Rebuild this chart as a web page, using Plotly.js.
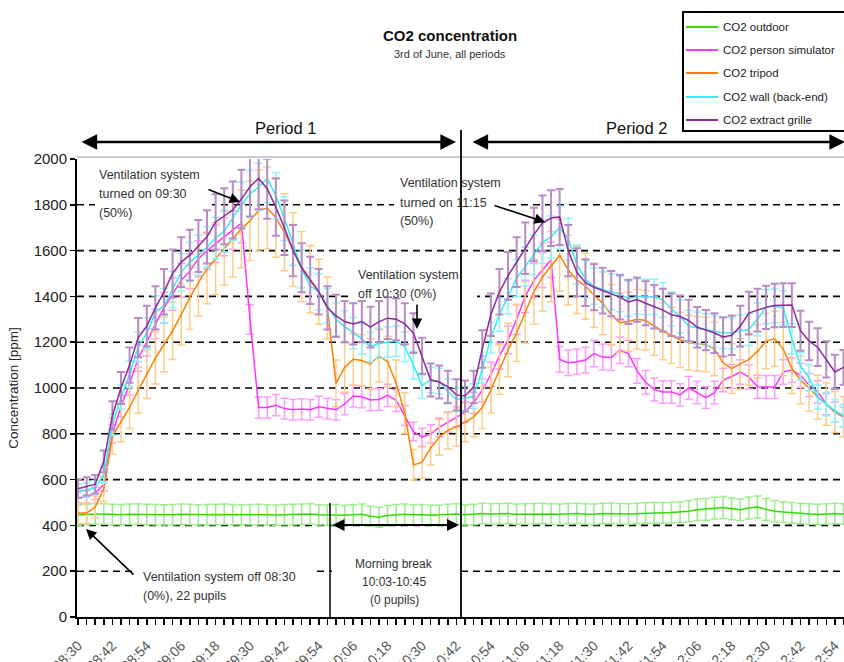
<!DOCTYPE html>
<html><head><meta charset="utf-8">
<script src="https://cdn.plot.ly/plotly-3.0.1.min.js"></script>
<style>html,body{margin:0;padding:0;overflow:hidden;background:#fff;} #chart{width:900px;height:700px;}</style>
</head><body><div id="chart"></div>
<script>
// ---- data ----
const day = "2024-06-03";
const startTime = "08:30";
const stepMinutes = 3;
const seriesNames = ["CO2 outdoor","CO2 person simulator","CO2 tripod","CO2 wall (back-end)","CO2 extract grille"];
const outdoor = [445,448,450,450,448,447,449,450,448,447,
  446,447,449,448,446,447,448,449,447,446,
  447,448,446,445,447,448,449,450,446,445,
  447,444,446,449,440,436,443,447,449,446,
  447,444,445,448,450,446,448,452,450,451,
  452,449,450,451,452,450,449,451,452,450,
  449,452,453,451,450,452,454,455,455,456,
  458,462,468,470,475,478,472,468,476,480,
  470,462,458,455,452,450,448,450,452,450];
const personSimulator = [520,525,540,580,800,920,1020,1130,1200,1280,
  1350,1410,1470,1510,1565,1600,1630,1660,1690,1720,
  1300,915,915,925,910,905,908,905,918,910,
  905,930,965,962,948,950,968,945,880,810,
  785,800,828,850,875,895,935,990,1060,1140,
  1210,1300,1400,1470,1515,1560,1125,1110,1115,1122,
  1150,1135,1133,1165,1150,1075,1025,993,983,983,
  970,1000,980,958,980,1035,1050,1070,1048,1005,
  1004,1004,1070,1078,1055,1013,983,930,895,873];
const tripod = [454,454,480,560,790,850,915,990,1060,1130,
  1190,1250,1320,1395,1460,1520,1565,1610,1650,1695,
  1730,1775,1786,1745,1680,1605,1530,1475,1420,1350,
  1020,1090,1125,1120,1105,1140,1115,1020,890,665,
  675,738,785,815,830,850,874,915,990,1080,
  1166,1240,1330,1420,1485,1530,1580,1515,1472,1445,
  1405,1370,1320,1285,1290,1300,1295,1270,1248,1230,
  1210,1198,1193,1190,1170,1110,1085,1105,1125,1160,
  1205,1215,1170,1085,1035,1000,960,930,895,875];
const wall = [550,555,565,620,840,960,1060,1180,1240,1330,
  1360,1430,1505,1550,1580,1615,1655,1685,1740,1800,
  1848,1878,1915,1840,1740,1625,1520,1445,1420,1360,
  1300,1268,1240,1215,1180,1195,1200,1205,1180,1100,
  1010,1035,1030,985,950,955,965,1080,1220,1320,
  1400,1480,1530,1580,1635,1660,1700,1650,1540,1475,
  1445,1430,1420,1410,1390,1400,1398,1398,1385,1345,
  1312,1270,1262,1255,1248,1240,1240,1250,1255,1300,
  1355,1358,1350,1215,1095,1045,960,930,900,880];
const extractGrille = [560,570,580,680,880,1000,1100,1220,1270,1350,
  1420,1500,1550,1580,1620,1660,1725,1750,1777,1825,
  1880,1915,1870,1790,1700,1600,1525,1470,1420,1350,
  1315,1290,1280,1290,1266,1290,1305,1300,1280,1240,
  1140,1035,1026,1005,970,965,1005,1170,1320,1420,
  1490,1550,1610,1670,1720,1742,1747,1600,1505,1460,
  1440,1425,1412,1397,1376,1386,1370,1355,1340,1320,
  1312,1295,1265,1253,1240,1223,1230,1270,1327,1340,
  1352,1360,1362,1362,1250,1205,1178,1125,1070,1090];
const errorPercent = [10, 5, 10, 5.5, 7];
const yTickValues = [0,200,400,600,800,1000,1200,1400,1600,1800,2000];

// ---- time axis ----
function toDate(hhmm, addMin){
  const [h,m] = hhmm.split(":").map(Number);
  const t = h*60+m+(addMin||0);
  const hh = Math.floor(t/60), mm = Math.floor(t%60), ss = Math.round((t*60)%60);
  const p = n => String(n).padStart(2,"0");
  return `${day} ${p(hh)}:${p(mm)}:${p(ss)}`;
}
const times = outdoor.map((_, i) => toDate(startTime, i*stepMinutes));

// ---- geometry helpers (pixel -> paper) ----
const W = 900, H = 700, L = 77, T = 159, B = 83, R = 0;
const PW = W - L - R, PH = H - T - B;
const pxPerMin = 2.867;
const px2x = px => (px - L) / PW;
const py2y = py => (T + PH - py) / PH;
const xStart = toDate(startTime, -(78 - L) / pxPerMin);
const xEnd = toDate(startTime, (L + PW - 78) / pxPerMin);

const lineColors = ["#33dd00","#ff33ff","#ff8000","#30eef5","#8b2b9b"];
const barColors  = ["#99ee88","#ff99ff","#ffcc88","#88f6ff","#b98cc8"];
const seriesData = [outdoor, personSimulator, tripod, wall, extractGrille];

const traces = seriesData.map((ys, k) => ({
  type: "scatter", mode: "lines", x: times, y: ys, name: seriesNames[k],
  line: {color: lineColors[k], width: 1.5},
  error_y: {type: "percent", value: errorPercent[k], color: barColors[k],
            thickness: k === 4 ? 2 : 1.5, width: 4},
  showlegend: false, cliponaxis: true
}));

const shapes = [];
// dashed grid lines
yTickValues.filter(v => v > 0 && v < 2000).forEach(v => shapes.push({
  type: "line", xref: "paper", yref: "y", x0: 0, x1: 1, y0: v, y1: v,
  line: {color: "#000", width: 1.6, dash: "7px,5px"}, layer: "below"}));
// top border
shapes.push({type:"line", xref:"paper", yref:"paper", x0:0, x1:1, y0:py2y(157), y1:py2y(157),
  line:{color:"#cccccc", width:2}, layer:"below"});
// white text boxes
const boxes = [[95,165,212,224],[394,172,508,232],[352,265,477,304],[133,566,312,606],[332,553,458,610]];
boxes.forEach(b => shapes.push({type:"rect", xref:"paper", yref:"paper",
  x0:px2x(b[0]), x1:px2x(b[2]), y0:py2y(b[3]), y1:py2y(b[1]),
  fillcolor:"#fff", line:{width:0}, layer:"below"}));
// period divider and morning break line
shapes.push({type:"line", xref:"paper", yref:"paper", x0:px2x(461), x1:px2x(461), y0:0, y1:py2y(130),
  line:{color:"#000", width:1.8}, layer:"above"});
shapes.push({type:"line", xref:"paper", yref:"paper", x0:px2x(330), x1:px2x(330), y0:0, y1:py2y(503),
  line:{color:"#000", width:1.5}, layer:"above"});
// legend box
shapes.push({type:"rect", xref:"paper", yref:"paper", x0:px2x(683), x1:px2x(905), y0:py2y(131), y1:py2y(12),
  fillcolor:"#fff", line:{color:"#000", width:2}, layer:"above"});
const legendY = [27, 50, 73, 97, 120];
legendY.forEach((py, k) => shapes.push({type:"line", xref:"paper", yref:"paper",
  x0:px2x(686), x1:px2x(718), y0:py2y(py), y1:py2y(py), line:{color:lineColors[k], width:2}, layer:"above"}));

const F = "Liberation Sans, Arial, sans-serif";
const ann = [];
function txt(text, px, py, size, opt){
  ann.push(Object.assign({xref:"paper", yref:"paper", x:px2x(px), y:py2y(py), text,
    showarrow:false, xanchor:"left", yanchor:"middle", font:{family:F, size, color:"#333"}}, opt||{}));
}
function arrow(hx, hy, tx, ty, opt){
  ann.push(Object.assign({xref:"paper", yref:"paper", x:px2x(hx), y:py2y(hy), ax:tx-hx, ay:ty-hy,
    text:"", showarrow:true, arrowhead:2, arrowsize:1.3, arrowwidth:1.6, arrowcolor:"#000"}, opt||{}));
}
// titles
txt("<b>CO2 concentration</b>", 450, 35, 15, {xanchor:"center", font:{family:F, size:15, color:"#111"}});
txt("3rd of June, all periods", 450, 54, 11, {xanchor:"center", font:{family:F, size:11, color:"#333"}});
// periods
txt("Period 1", 285, 128, 16.5, {xanchor:"center", font:{family:F, size:16.5, color:"#111"}});
txt("Period 2", 636, 128, 16.5, {xanchor:"center", font:{family:F, size:16.5, color:"#111"}});
arrow(456, 142, 80, 142, {arrowside:"end+start", startarrowhead:2, arrowwidth:2.6, arrowsize:1.2, startarrowsize:1.2});
arrow(845, 142, 471, 142, {arrowside:"end+start", startarrowhead:2, arrowwidth:2.6, arrowsize:1.2, startarrowsize:1.2});
// legend text
legendY.forEach((py, k) => txt(seriesNames[k], 721, py, 11.5, {font:{family:F, size:11.5, color:"#222"}}));
// notes
txt("Ventilation system", 97, 175, 12.5);
txt("turned on 09:30", 97, 194, 12.5);
txt("(50%)", 97, 213, 12.5);
arrow(240, 202, 207, 189);
txt("Ventilation system", 398, 183, 12.5);
txt("turned on 11:15", 398, 203, 12.5);
txt("(50%)", 398, 221, 12.5);
arrow(545, 222, 493, 205);
txt("Ventilation system", 356, 275, 12.5);
txt("off 10:30 (0%)", 356, 294, 12.5);
arrow(417, 329, 417, 303);
txt("Ventilation system off 08:30", 141, 577, 12.5);
txt("(0%), 22 pupils", 141, 596, 12.5);
arrow(86, 529, 135, 576);
txt("Morning break", 394, 564, 12, {xanchor:"center"});
txt("10:03-10:45", 394, 582, 12, {xanchor:"center"});
txt("(0 pupils)", 394, 600, 12, {xanchor:"center"});
arrow(459, 525, 331, 525, {arrowside:"end+start", startarrowhead:2, arrowwidth:2, arrowsize:1.2, startarrowsize:1.2});

const layout = {
  width: W, height: H, margin: {l: L, r: R, t: T, b: B},
  paper_bgcolor: "#fff", plot_bgcolor: "#fff", showlegend: false,
  font: {family: F, color: "#222"},
  xaxis: {type: "date", range: [xStart, xEnd], tickformat: "%H:%M",
    tick0: toDate(startTime, 0), dtick: 12*60*1000, tickangle: -45,
    ticks: "outside", ticklen: 6, tickwidth: 1.5, tickcolor: "#000",
    ticklabelstandoff: 7,
    tickfont: {family: F, size: 14, color: "#555"},
    minor: {dtick: 3*60*1000, tick0: toDate(startTime, 0), ticks: "outside", ticklen: 6, tickwidth: 1.5, tickcolor: "#000", showgrid: false},
    showline: true, linecolor: "#000", linewidth: 2, showgrid: false, zeroline: false},
  yaxis: {range: [0, 2000], tickvals: yTickValues, ticks: "outside", ticklen: 5, tickwidth: 1.5, tickcolor: "#000",
    tickfont: {family: F, size: 15, color: "#222"},
    showline: true, linecolor: "#000", linewidth: 2, showgrid: false, zeroline: false,
    title: {text: "Concentration [ppm]", font: {family: F, size: 13.5, color: "#222"}, standoff: 12}},
  shapes: shapes, annotations: ann
};
Plotly.newPlot("chart", traces, layout, {displayModeBar: false, staticPlot: true});
</script></body></html>
